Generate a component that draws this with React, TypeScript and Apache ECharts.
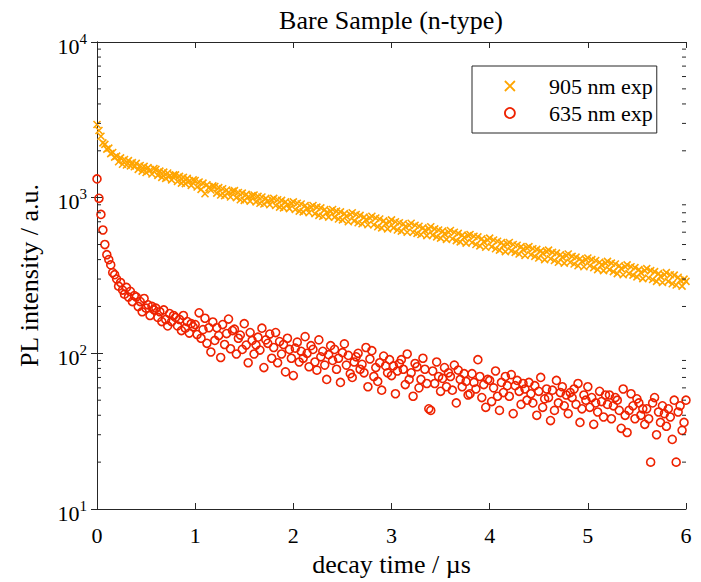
import React, { useEffect, useRef } from "react";
import * as echarts from "echarts";

const TITLE = "Bare Sample (n-type)";
const X_NAME = "decay time / µs";
const Y_NAME = "PL intensity / a.u.";
const SERIES_NAMES = ["905 nm exp", "635 nm exp"];
const X_TICKS = [0, 1, 2, 3, 4, 5, 6];
const Y_MIN = 10;
const Y_MAX = 10000;
const MINOR_MULTS = [2, 3, 4, 5, 6, 7, 8, 9];
const DECADES = [10, 100, 1000];
const TIME_STEP = 0.02;

// 905 nm (orange, x markers), sampled every TIME_STEP µs from t = 0
const PL_905 = [
  2950, 2700, 2480, 2250, 2200, 2050, 2080, 1920, 1950, 1820,
  1850, 1700, 1800, 1640, 1760, 1620, 1730, 1600, 1680, 1580,
  1660, 1520, 1610, 1480, 1590, 1450, 1560, 1500, 1420, 1540,
  1520, 1390, 1480, 1350, 1460, 1330, 1440, 1380, 1300, 1400,
  1400, 1270, 1370, 1240, 1350, 1230, 1330, 1280, 1200, 1300,
  1290, 1170, 1260, 1130, 1240, 1060, 1210, 1160, 1120, 1190,
  1180, 1070, 1160, 1040, 1140, 1030, 1120, 1080, 1010, 1100,
  1110, 1000, 1080, 970, 1070, 960, 1050, 1010, 950, 1030,
  1040, 940, 1020, 920, 1010, 910, 990, 950, 900, 970,
  990, 890, 970, 870, 960, 860, 940, 900, 850, 920,
  940, 840, 920, 820, 910, 810, 890, 850, 800, 870,
  890, 790, 870, 770, 860, 760, 840, 800, 750, 820,
  840, 750, 820, 730, 810, 720, 790, 760, 700, 780,
  800, 710, 780, 690, 770, 680, 750, 720, 670, 740,
  760, 670, 740, 650, 730, 640, 710, 680, 630, 700,
  720, 640, 700, 620, 690, 610, 680, 650, 600, 665,
  685, 600, 665, 590, 655, 580, 640, 615, 570, 630,
  650, 575, 630, 560, 620, 550, 610, 585, 540, 600,
  615, 545, 600, 530, 590, 520, 575, 555, 510, 570,
  580, 515, 565, 500, 560, 490, 545, 520, 480, 535,
  550, 485, 535, 470, 525, 460, 515, 495, 450, 505,
  515, 455, 500, 445, 495, 435, 485, 465, 425, 475,
  485, 430, 470, 420, 465, 410, 455, 440, 400, 450,
  460, 405, 445, 395, 440, 385, 430, 415, 380, 425,
  435, 385, 420, 375, 415, 365, 405, 390, 360, 400,
  410, 365, 400, 355, 395, 345, 385, 370, 340, 380,
  390, 345, 380, 335, 375, 325, 365, 350, 320, 360,
  370, 325, 360, 318, 355, 310, 345, 330, 302, 340,
  350, 305, 340, 298, 335, 290, 325, 312, 285, 320,
  330, 290, 320, 280, 318, 275, 308, 295, 270, 300,
  290,
];

// 635 nm (red, circles), sampled every TIME_STEP µs from t = 0
const PL_635 = [
  1320, 990, 780, 620, 500, 430, 400, 370, 330, 320,
  300, 270, 285, 255, 240, 265, 230, 250, 215, 235,
  230, 200, 215, 185, 225, 195, 205, 175, 200, 190,
  195, 170, 185, 160, 190, 165, 150, 180, 160, 175,
  170, 150, 165, 140, 175, 145, 160, 135, 155, 148,
  153, 132, 182, 125, 142, 168, 116, 146, 102, 159,
  121, 146, 130, 94, 153, 114, 134, 166, 107, 140,
  143, 99, 125, 131, 106, 155, 113, 87, 136, 121,
  99, 113, 127, 105, 145, 81, 122, 116, 133, 93,
  109, 136, 87, 119, 99, 114, 76, 125, 106, 93,
  72, 108, 118, 88, 103, 93, 128, 100, 82, 112,
  106, 88, 78, 122, 95, 103, 84, 68, 98, 112,
  90, 106, 79, 93, 65, 101, 115, 84, 97, 74,
  70, 88, 95, 100, 79, 85, 75, 109, 61, 92,
  104, 71, 81, 66, 87, 58, 96, 83, 75, 91,
  72, 83, 55, 77, 86, 91, 79, 63, 99, 68,
  75, 53, 86, 82, 60, 68, 93, 79, 64, 44,
  43, 77, 64, 88, 71, 57, 69, 81, 61, 75,
  71, 58, 84, 48, 78, 68, 61, 74, 66, 54,
  55, 74, 65, 59, 91, 71, 52, 63, 45, 68,
  67, 49, 60, 77, 53, 43, 65, 56, 71, 62,
  53, 73, 41, 62, 67, 57, 47, 64, 59, 50,
  65, 55, 48, 62, 40, 57, 70, 45, 51, 59,
  52, 37, 58, 43, 67, 48, 56, 61, 46, 54,
  41, 56, 52, 59, 47, 64, 36, 44, 54, 50,
  61, 45, 52, 35, 48, 42, 57, 49, 39, 54,
  47, 54, 38, 46, 52, 50, 43, 33, 59, 40,
  31, 43, 55, 46, 38, 51, 48, 40, 44, 35,
  44, 38, 20, 48, 52, 30, 42, 36, 46, 41,
  34, 44, 39, 28, 50, 20, 42, 46, 32, 36,
  50,
];

const ORANGE = "#FFA500";
const RED = "#EE2200";
const AXIS = "#262626";
const SERIF = "Liberation Serif";
const CROSS = "path://M0,0L10,10M10,0L0,10";

export default function App() {
  const ref = useRef<HTMLDivElement>(null);

  useEffect(() => {
    if (!ref.current) return;
    const chart = echarts.init(ref.current, null, { renderer: "svg" });
    const xMin = X_TICKS[0];
    const xMax = X_TICKS[X_TICKS.length - 1];
    const toPairs = (arr: number[]) => arr.map((v, i) => [+(i * TIME_STEP).toFixed(4), v]);
    const minorTicks: number[][] = [];
    DECADES.forEach((d) => MINOR_MULTS.forEach((m) => minorTicks.push([xMin, d * m])));

    const yLabel = (v: number) => {
      const e = Math.round(Math.log10(v));
      return `{b|10}{s|${e}}`;
    };

    const baseX = {
      type: "value" as const,
      min: xMin,
      max: xMax,
      interval: 1,
      splitLine: { show: false },
      axisLine: { show: true, lineStyle: { color: AXIS, width: 1 } },
      axisTick: { show: true, inside: true, length: 6, lineStyle: { color: AXIS } },
    };
    const baseY = {
      type: "log" as const,
      logBase: 10,
      min: Y_MIN,
      max: Y_MAX,
      splitNumber: 3,
      splitLine: { show: false },
      axisLine: { show: true, lineStyle: { color: AXIS, width: 1 } },
      axisTick: { show: true, inside: true, length: 6, lineStyle: { color: AXIS } },
    };

    chart.setOption({
      animation: false,
      backgroundColor: "#ffffff",
      textStyle: { fontFamily: SERIF },
      title: {
        text: TITLE,
        left: 391,
        top: 7,
        textAlign: "center",
        padding: 0,
        textStyle: { fontFamily: SERIF, fontSize: 26, fontWeight: "normal", color: "#000" },
      },
      grid: { left: 97, right: 15, top: 42, bottom: 69, containLabel: false },
      legend: {
        orient: "vertical",
        left: 472,
        top: 66,
        padding: [9, 4, 9, 32],
        itemGap: 5,
        itemWidth: 10,
        itemHeight: 10,
        borderColor: AXIS,
        borderWidth: 1,
        backgroundColor: "#fff",
        textStyle: { fontFamily: SERIF, fontSize: 22, lineHeight: 22, color: "#000", padding: [0, 0, 0, 29] },
        data: [
          {
            name: SERIES_NAMES[0],
            icon: CROSS,
            itemStyle: { color: "rgba(0,0,0,0)", borderColor: ORANGE, borderWidth: 1.8 },
          },
          {
            name: SERIES_NAMES[1],
            icon: "circle",
            itemStyle: { color: "rgba(0,0,0,0)", borderColor: RED, borderWidth: 1.8 },
          },
        ],
      },
      xAxis: [
        {
          ...baseX,
          position: "bottom",
          name: X_NAME,
          nameLocation: "middle",
          nameGap: 42,
          nameTextStyle: { fontFamily: SERIF, fontSize: 26, color: "#000" },
          axisLabel: { fontFamily: SERIF, fontSize: 22, color: "#000", margin: 15 },
        },
        { ...baseX, position: "top", axisLabel: { show: false } },
      ],
      yAxis: [
        {
          ...baseY,
          position: "left",
          name: Y_NAME,
          nameLocation: "middle",
          nameGap: 55,
          nameTextStyle: { fontFamily: SERIF, fontSize: 26, color: "#000" },
          axisLabel: {
            margin: 10,
            formatter: yLabel,
            rich: {
              b: { fontFamily: SERIF, fontSize: 22, color: "#000", lineHeight: 22, padding: [8, 0, 0, 0] },
              s: { fontFamily: SERIF, fontSize: 15, color: "#000", lineHeight: 15, verticalAlign: "top" },
            },
          },
        },
        { ...baseY, position: "right", axisLabel: { show: false } },
      ],
      series: [
        {
          name: SERIES_NAMES[0],
          type: "scatter",
          symbol: CROSS,
          symbolSize: 7,
          itemStyle: { color: "rgba(0,0,0,0)", borderColor: ORANGE, borderWidth: 1.6, opacity: 1 },
          data: toPairs(PL_905),
          z: 3,
        },
        {
          name: SERIES_NAMES[1],
          type: "scatter",
          symbol: "circle",
          symbolSize: 8,
          itemStyle: { color: "rgba(0,0,0,0)", borderColor: RED, borderWidth: 1.6, opacity: 1 },
          data: toPairs(PL_635),
          z: 4,
        },
        {
          name: "minor-ticks",
          type: "custom",
          silent: true,
          clip: false,
          z: 5,
          data: minorTicks,
          renderItem: (_params: any, api: any) => {
            const v = api.value(1);
            const l = api.coord([xMin, v]);
            const r = api.coord([xMax, v]);
            return {
              type: "group",
              children: [
                { type: "line", shape: { x1: l[0], y1: l[1], x2: l[0] + 4, y2: l[1] }, style: { stroke: AXIS, lineWidth: 1 } },
                { type: "line", shape: { x1: r[0], y1: r[1], x2: r[0] - 4, y2: r[1] }, style: { stroke: AXIS, lineWidth: 1 } },
              ],
            };
          },
        },
      ],
    });
    return () => chart.dispose();
  }, []);

  return <div ref={ref} style={{ position: "fixed", left: 0, top: 0, width: 701, height: 582 }} />;
}
